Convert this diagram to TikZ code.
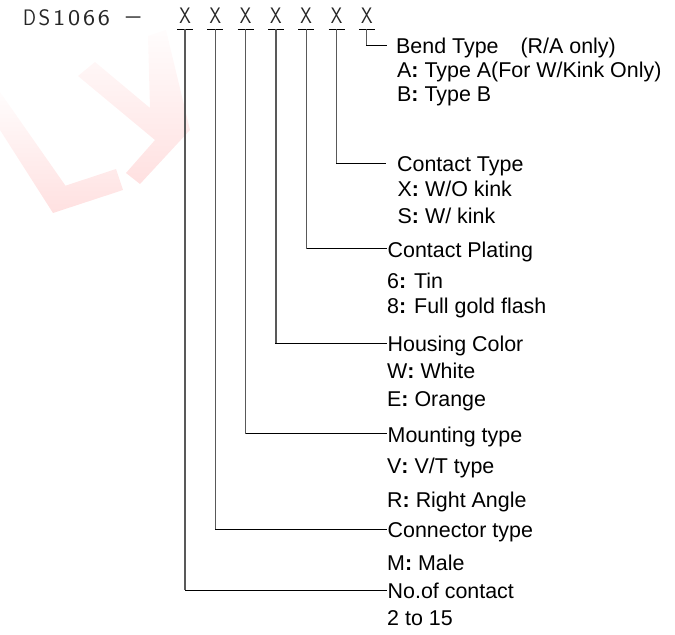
\documentclass[tikz,border=0pt]{standalone}
\usepackage{fontspec}
\setmainfont{Liberation Sans}
\begin{document}
\begin{tikzpicture}[x=1bp,y=-1bp,
  hdr/.style={font=\sffamily\fontsize{22.5}{22.5}\selectfont, text=black!85, inner sep=0pt, anchor=base},
  hx/.style={hdr, text depth=5.5bp},
  ttl/.style={font=\fontsize{21.5}{21.5}\selectfont, inner ysep=0pt, text height=17bp, text depth=0pt, anchor=base west},
  opt/.style={font=\fontsize{21.5}{21.5}\selectfont, inner sep=0pt, anchor=base west},
  vline/.style={draw=black!65, line width=1.3pt},
  hline/.style={draw=black, line width=0.9pt},
  wm/.style={top color=red!1, bottom color=red!12}
]
\useasboundingbox (0,0) rectangle (675,635);
% watermark
\shade[wm] (0,92) -- (0,130) -- (53,213) -- (123,190) -- (116,169) -- (65.5,185.7) -- cycle;
\shade[wm] (78,76) -- (95,62) -- (150,108) -- (148,36) -- (166,30) -- (190,130) -- (140,184) -- (126,173) -- (155,140) -- cycle;
% header
\foreach \c/\s [count=\i] in {D/0.85,S/1.0,1/1.15,0/1.15,6/1.15,6/1.15}
  \node[hdr] (d\i) at ({29.5+14.9*(\i-1)},25.5) {\scalebox{\s}[1]{\c}};
\node[hdr] (dash) at (133.3,23.5) {\scalebox{1.4}[1]{–}};
\foreach \i in {1,...,7}
  \node[hx] (X\i) at ({185+30.3*(\i-1)},23.5) {\scalebox{0.82}[1]{X}};
\foreach \i in {1,...,7}
  \draw[hline] ([xshift=-8bp]X\i.south) -- ([xshift=8bp]X\i.south);
% titles
\node[ttl, inner xsep=9bp] (L7) at (387,53.5) {Bend Type\hspace{22bp}(R/A only)};
\node[opt] (a7) at (397,78) {A\textbf{:} Type A(For W/Kink Only)};
\node[opt] (b7) at (397,102) {B\textbf{:} Type B};
\node[ttl, inner xsep=11bp] (L6) at (386,172) {Contact Type};
\node[opt] (a6) at (397.5,197) {X\textbf{:} W/O kink};
\node[opt] (b6) at (397.5,223) {S\textbf{:} W/ kink};
\node[ttl, inner xsep=0.5bp] (L5) at (387,257) {Contact Plating};
\node[opt] (a5) at (387,288.5) {6\textbf{:} Tin};
\node[opt] (b5) at (387,313.5) {8\textbf{:} Full gold flash};
\node[ttl, inner xsep=0.5bp] (L4) at (387,351.5) {Housing Color};
\node[opt] (a4) at (387,378.5) {W\textbf{:} White};
\node[opt] (b4) at (387,406) {E\textbf{:} Orange};
\node[ttl, inner xsep=0.5bp] (L3) at (387,442) {Mounting type};
\node[opt] (a3) at (387,473.5) {V\textbf{:} V/T type};
\node[opt] (b3) at (387,507) {R\textbf{:} Right Angle};
\node[ttl, inner xsep=0.5bp] (L2) at (387,537.5) {Connector type};
\node[opt] (a2) at (387,570) {M\textbf{:} Male};
\node[ttl, inner xsep=0.5bp] (L1) at (387,598.5) {No.of contact};
\node[opt] (a1) at (387,625) {2 to 15};
% connectors
\foreach \i in {1,...,7} {
  \draw[hline] (X\i.south) |- (L\i.west);
  \draw[vline] (X\i.south) -- (X\i.south |- L\i.west);
}
\end{tikzpicture}
\end{document}
